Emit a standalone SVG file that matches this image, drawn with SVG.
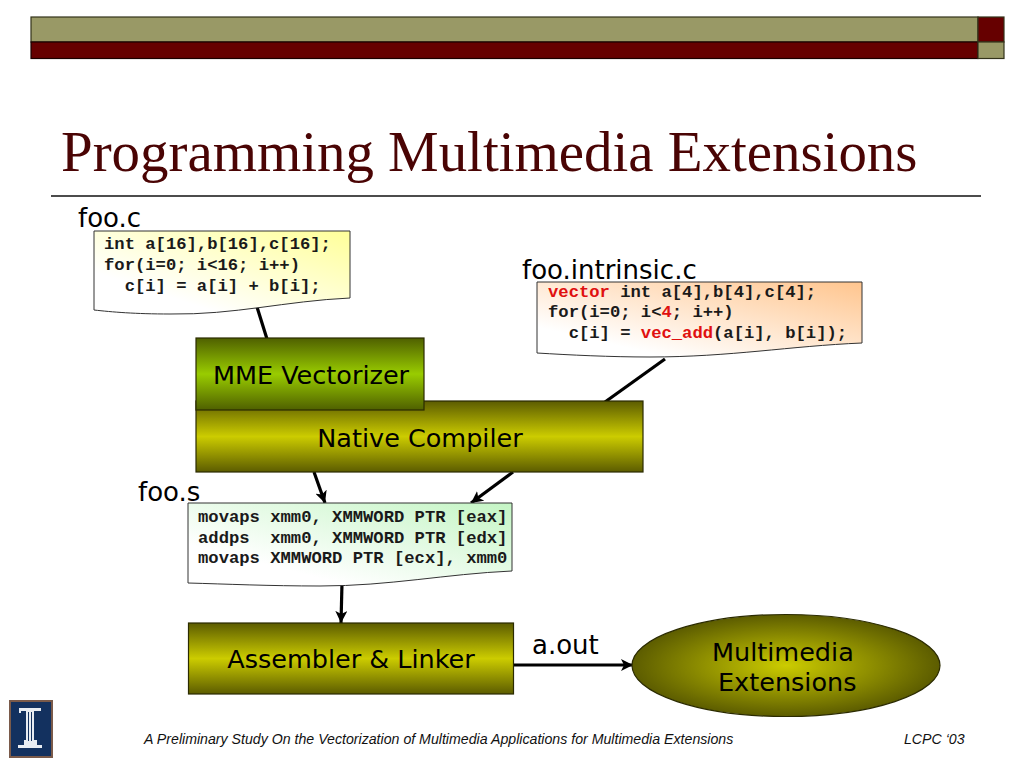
<svg xmlns="http://www.w3.org/2000/svg" width="1024" height="768" viewBox="0 0 1024 768">
<style>
.sans{font-family:"DejaVu Sans",Verdana,sans-serif;fill:#000}
.lbl{font-size:26px}
.box{font-size:25.500px;text-anchor:middle}
.code{font-family:"Liberation Mono","Courier New",monospace;font-weight:bold;font-size:17.200px;fill:#1a1a1a;white-space:pre}
.red{fill:#e01010}
.foot{font-family:"Liberation Sans",Arial,sans-serif;font-style:italic;font-size:14.170px;fill:#111}
.edge{fill:none;stroke:#000;stroke-width:3.2}
.doc{stroke:#333;stroke-width:1}
.shape{stroke:#2b2b00;stroke-width:1.2}
</style>
<defs>
<marker id="arrow" markerUnits="userSpaceOnUse" markerWidth="14" markerHeight="12" refX="12" refY="6" orient="auto"><path d="M0,0 L12,6 L0,12 L3,6 Z" fill="#000"/></marker>
<linearGradient id="gy" x1="1" y1="0" x2="0" y2="1"><stop offset="0" stop-color="#ffff99"/><stop offset="0.75" stop-color="#ffffff"/></linearGradient>
<linearGradient id="go" x1="1" y1="0" x2="0" y2="1"><stop offset="0" stop-color="#ffc58e"/><stop offset="0.8" stop-color="#ffffff"/></linearGradient>
<linearGradient id="gg" x1="1" y1="0" x2="0" y2="1"><stop offset="0" stop-color="#c4f5c4"/><stop offset="0.75" stop-color="#ffffff"/></linearGradient>
<linearGradient id="gm" x1="0" y1="0" x2="0" y2="1"><stop offset="0" stop-color="#4f6000"/><stop offset="0.5" stop-color="#99cc00"/><stop offset="1" stop-color="#4f6000"/></linearGradient>
<linearGradient id="gc" x1="0" y1="0" x2="0" y2="1"><stop offset="0" stop-color="#5c5c00"/><stop offset="0.5" stop-color="#cccc00"/><stop offset="1" stop-color="#5c5c00"/></linearGradient>
<radialGradient id="ge" cx="0.5" cy="0.5" r="0.5"><stop offset="0" stop-color="#cccc00"/><stop offset="1" stop-color="#5c5c00"/></radialGradient>
</defs>

<g id="banner">
<rect x="31" y="17" width="947" height="25" fill="#999966" stroke="#33331a" stroke-width="1.2"/>
<rect x="31" y="42" width="947" height="16.500" fill="#660000" stroke="#1a0000" stroke-width="1.2"/>
<rect x="978" y="17" width="26" height="25" fill="#660000" stroke="#33331a" stroke-width="1.2"/>
<rect x="978" y="42" width="26" height="16.500" fill="#999966" stroke="#33331a" stroke-width="1.2"/>
</g>
<g id="title">
<text x="61" y="171" font-family="Liberation Serif,Times New Roman,serif" font-size="56.900" fill="#4a0404">Programming Multimedia Extensions</text>
<line x1="51" y1="196" x2="981" y2="196" stroke="#111" stroke-width="1.3"/>
</g>

<g id="connectors">
<line class="edge" x1="257" y1="307" x2="267" y2="339"/>
<line class="edge" x1="665" y1="359" x2="605" y2="402"/>
<line class="edge" x1="314" y1="472" x2="325" y2="503" marker-end="url(#arrow)"/>
<line class="edge" x1="513" y1="472" x2="471" y2="503" marker-end="url(#arrow)"/>
<line class="edge" x1="342" y1="583" x2="341" y2="623" marker-end="url(#arrow)"/>
<line class="edge" x1="513" y1="665" x2="633" y2="665" marker-end="url(#arrow)"/>
</g>

<g id="foo-c">
<text class="sans lbl" x="78" y="227">foo.c</text>
<path class="doc" fill="url(#gy)" d="M94,231 H350 V298 C285,301 235,315 170,314 C135,314 112,312 94,310 Z"/>
<text class="code" x="104" y="249">int a[16],b[16],c[16];</text>
<text class="code" x="104" y="270">for(i=0; i&lt;16; i++)</text>
<text class="code" x="104" y="291">  c[i] = a[i] + b[i];</text>
</g>

<g id="foo-intrinsic">
<text class="sans lbl" x="522" y="279">foo.intrinsic.c</text>
<path class="doc" fill="url(#go)" d="M537,282 H862 V343 C790,346 730,357 650,357 C610,357 570,355 537,353 Z"/>
<text class="code" x="548" y="297"><tspan class="red">vector</tspan> int a[4],b[4],c[4];</text>
<text class="code" x="548" y="317">for(i=0; i&lt;<tspan class="red">4</tspan>; i++)</text>
<text class="code" x="548" y="338">  c[i] = <tspan class="red">vec_add</tspan>(a[i], b[i]);</text>
</g>

<g id="native-compiler">
<rect class="shape" x="196" y="401" width="447" height="71" fill="url(#gc)"/>
<text class="sans box" x="420" y="447">Native Compiler</text>
</g>

<g id="mme-vectorizer">
<rect class="shape" x="196" y="338" width="228" height="72" fill="url(#gm)"/>
<text class="sans box" x="311" y="384">MME Vectorizer</text>
</g>

<g id="foo-s">
<text class="sans lbl" x="138" y="501">foo.s</text>
<path class="doc" fill="url(#gg)" d="M188,503 H512 V571 C445,574 390,586 320,586 C270,586 225,584 188,583 Z"/>
<text class="code" x="198" y="522">movaps xmm0, XMMWORD PTR [eax]</text>
<text class="code" x="198" y="543">addps  xmm0, XMMWORD PTR [edx]</text>
<text class="code" x="198" y="563">movaps XMMWORD PTR [ecx], xmm0</text>
</g>

<g id="assembler-linker">
<rect class="shape" x="188.500" y="623" width="325" height="71" fill="url(#gc)"/>
<text class="sans box" x="351" y="668">Assembler &amp; Linker</text>
</g>

<g id="a-out">
<text class="sans lbl" x="532" y="654">a.out</text>
</g>

<g id="multimedia-extensions">
<ellipse class="shape" cx="786" cy="665.500" rx="154" ry="51" fill="url(#ge)"/>
<text class="sans box" x="712" y="661" style="text-anchor:start">Multimedia</text>
<text class="sans box" x="718" y="691" style="text-anchor:start">Extensions</text>
</g>

<g id="logo">
<rect x="10" y="701" width="42" height="56" fill="#13315f" stroke="#7a5a4a" stroke-width="2"/>
<path fill="#e8ecf2" d="M19,708 H41 V711 H34 V740 H37 V745 H42 V748 H18 V745 H24 V740 H26 V711 H21 V713 H19 Z"/>
<path fill="#13315f" d="M28,712 H29 V741 H28 Z M31,712 H32 V741 H31 Z"/>
</g>

<g id="footer">
<text class="foot" x="144" y="744">A Preliminary Study On the Vectorization of Multimedia Applications for Multimedia Extensions</text>
<text class="foot" x="904" y="744">LCPC ‘03</text>
</g>
</svg>
